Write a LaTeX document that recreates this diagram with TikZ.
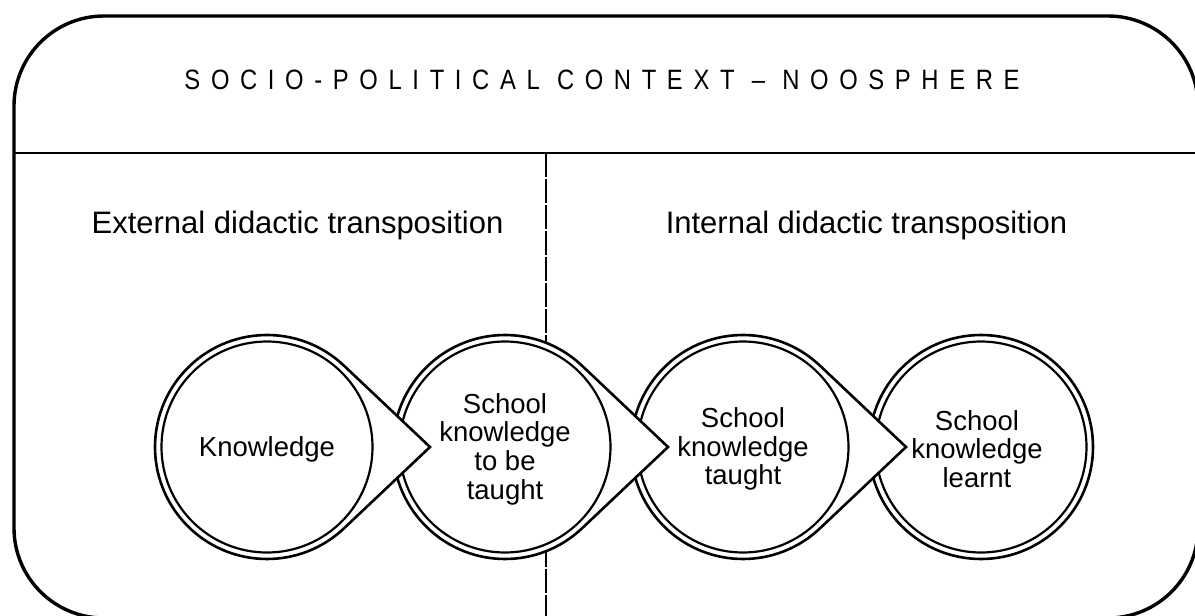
\documentclass[tikz,border=0pt]{standalone}
\usepackage{fontspec}
\setmainfont{Liberation Sans}
\newfontfamily\titlefont[LetterSpace=38,FakeStretch=0.85]{Liberation Sans}
\usetikzlibrary{calc}
\newcommand\tdrop[1]{%
  \draw[outerring] ($(#1)+(163pt,0)$) -- ($(#1)+(46.6:112pt)$)
    arc[start angle=46.6,end angle=313.4,radius=112pt] -- cycle;
  \draw[innerring] (#1) circle[radius=105.5pt];}
\begin{document}
\begin{tikzpicture}[x=1pt,y=1pt,
  frame/.style={line width=3.4pt, rounded corners=90pt},
  sep/.style={line width=1.8pt},
  dashsep/.style={line width=2pt, dash pattern=on 24pt off 2pt},
  outerring/.style={line width=2.6pt, fill=white, line join=miter},
  innerring/.style={line width=2.2pt},
  ctext/.style={align=center, font=\fontsize{27.5}{28.7}\selectfont, inner sep=0pt},
  head/.style={anchor=base, font=\fontsize{31}{36}\selectfont, inner sep=0pt},
]
\useasboundingbox (0,0) rectangle (1195,-616);
\draw[frame] (14,-16) rectangle (1198,-618);
\coordinate (sl) at (14,-153);
\coordinate (sr) at (1197,-153);
\draw[sep] (sl) -- (sr);
\coordinate (dtop) at (546,-153);
\coordinate (dbot) at (546,-620);
\draw[dashsep] (dtop) -- (dbot);
\coordinate (c1) at (267,-447);
\coordinate (c2) at (505,-447);
\coordinate (c3) at (743,-447);
\coordinate (c4) at (981,-447);
\draw[outerring] (c4) circle[radius=112pt];
\draw[innerring] (c4) circle[radius=105.5pt];
\tdrop{c3}
\tdrop{c2}
\tdrop{c1}
\node[anchor=base, inner sep=0pt] (title) at (602,-89)
  {\titlefont\fontsize{28}{32}\selectfont SOCIO-POLITICAL CONTEXT – NOOSPHERE};
\node[head] (ext) at (297.5,-233) {External didactic transposition};
\node[head] (int) at (866.5,-233) {Internal didactic transposition};
\node[ctext] (k1) at ($(c1)+(0,-2)$) {Knowledge};
\node[ctext] (k2) at ($(c2)+(0,-2)$) {School\\knowledge\\to be\\taught};
\node[ctext] (k3) at ($(c3)+(0,-2)$) {School\\knowledge\\taught};
\node[ctext] (k4) at ($(c4)+(-4,-2)$) {School\\knowledge\\learnt};
\end{tikzpicture}
\end{document}
